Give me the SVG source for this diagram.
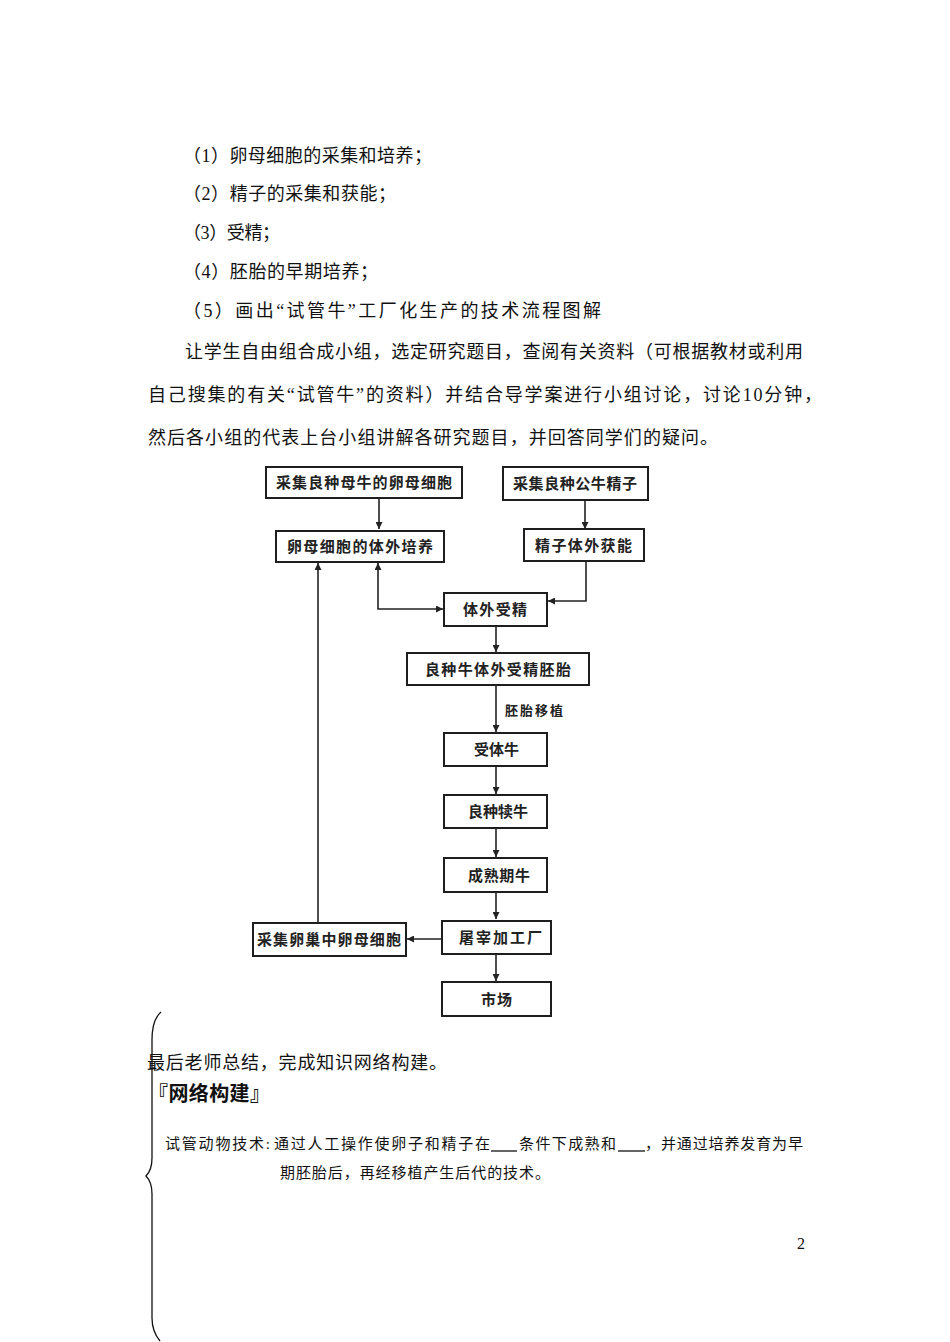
<svg xmlns="http://www.w3.org/2000/svg" width="950" height="1342" viewBox="0 0 950 1342">
<style>
.body{font-family:"Liberation Serif","Noto Sans CJK SC",serif;font-size:18px;fill:#111}
.small{font-family:"Liberation Serif","Noto Sans CJK SC",serif;font-size:15px;fill:#111}
.box rect{fill:#fff;stroke:#1e1e1e;stroke-width:2}
.box text{font-family:"Noto Sans CJK SC",sans-serif;font-size:15px;font-weight:bold;fill:#222}
.conn path{fill:none;stroke:#222;stroke-width:1.6}
.lbl{font-family:"Noto Sans CJK SC",sans-serif;font-size:13px;font-weight:bold;fill:#222}
</style>
<defs>
<marker id="ah" viewBox="0 0 10 10" refX="10" refY="5" markerWidth="7" markerHeight="7" orient="auto-start-reverse" markerUnits="userSpaceOnUse">
<path d="M0,0 L10,5 L0,10 Z" fill="#222"/>
</marker>
</defs>
<rect width="950" height="1342" fill="#fff"/>

<g id="text-top">
<text class="body" x="183" y="162" textLength="249" lengthAdjust="spacing">（1）卵母细胞的采集和培养；</text>
<text class="body" x="183" y="200" textLength="213" lengthAdjust="spacing">（2）精子的采集和获能；</text>
<text class="body" x="183" y="239" textLength="97" lengthAdjust="spacing">（3）受精；</text>
<text class="body" x="183" y="278" textLength="195" lengthAdjust="spacing">（4）胚胎的早期培养；</text>
<text class="body" x="183" y="317" textLength="418" lengthAdjust="spacing">（5）画出“试管牛”工厂化生产的技术流程图解</text>
<text class="body" x="185" y="358" textLength="618" lengthAdjust="spacing">让学生自由组合成小组，选定研究题目，查阅有关资料（可根据教材或利用</text>
<text class="body" x="148" y="401" textLength="674" lengthAdjust="spacing">自己搜集的有关“试管牛”的资料）并结合导学案进行小组讨论，讨论10分钟，</text>
<text class="body" x="148" y="444" textLength="570" lengthAdjust="spacing">然后各小组的代表上台小组讲解各研究题目，并回答同学们的疑问。</text>
</g>

<g class="conn" id="connectors">
<path d="M379,498 L379,529" marker-end="url(#ah)"/>
<path d="M585,500 L585,529" marker-end="url(#ah)"/>
<path d="M586,561 L586,601 L548,601" marker-end="url(#ah)"/>
<path d="M378,563 L378,609 L443,609" marker-start="url(#ah)" marker-end="url(#ah)"/>
<path d="M496,626 L496,652" marker-end="url(#ah)"/>
<path d="M496,685 L496,732" marker-end="url(#ah)"/>
<path d="M496,766 L496,794" marker-end="url(#ah)"/>
<path d="M496,828 L496,857" marker-end="url(#ah)"/>
<path d="M496,892 L496,919" marker-end="url(#ah)"/>
<path d="M496,954 L496,981" marker-end="url(#ah)"/>
<path d="M441,939 L407,939" marker-end="url(#ah)"/>
<path d="M318,922 L318,563" marker-end="url(#ah)"/>
<text class="lbl" x="505" y="715" textLength="58" lengthAdjust="spacing">胚胎移植</text>
</g>

<g class="box" id="node-a"><rect x="266" y="467" width="196" height="31"/><text x="276" y="488" textLength="176" lengthAdjust="spacing">采集良种母牛的卵母细胞</text></g>
<g class="box" id="node-b"><rect x="276" y="531" width="168" height="31"/><text x="287" y="552" textLength="146" lengthAdjust="spacing">卵母细胞的体外培养</text></g>
<g class="box" id="node-c"><rect x="503" y="467" width="145" height="33"/><text x="513" y="489" textLength="124" lengthAdjust="spacing">采集良种公牛精子</text></g>
<g class="box" id="node-d"><rect x="524" y="529" width="120" height="32"/><text x="535" y="551" textLength="97" lengthAdjust="spacing">精子体外获能</text></g>
<g class="box" id="node-e"><rect x="444" y="593" width="103" height="33"/><text x="463" y="615" textLength="64" lengthAdjust="spacing">体外受精</text></g>
<g class="box" id="node-f"><rect x="407" y="653" width="182" height="32"/><text x="425" y="675" textLength="146" lengthAdjust="spacing">良种牛体外受精胚胎</text></g>
<g class="box" id="node-g"><rect x="444" y="733" width="103" height="33"/><text x="474" y="755" textLength="45" lengthAdjust="spacing">受体牛</text></g>
<g class="box" id="node-h"><rect x="444" y="795" width="103" height="33"/><text x="468" y="817" textLength="60" lengthAdjust="spacing">良种犊牛</text></g>
<g class="box" id="node-i"><rect x="444" y="858" width="103" height="34"/><text x="468" y="881" textLength="62" lengthAdjust="spacing">成熟期牛</text></g>
<g class="box" id="node-j"><rect x="442" y="921" width="109" height="33"/><text x="459" y="943" textLength="83" lengthAdjust="spacing">屠宰加工厂</text></g>
<g class="box" id="node-k"><rect x="253" y="923" width="153" height="33"/><text x="257" y="945" textLength="144" lengthAdjust="spacing">采集卵巢中卵母细胞</text></g>
<g class="box" id="node-l"><rect x="442" y="982" width="109" height="34"/><text x="481" y="1005" textLength="31" lengthAdjust="spacing">市场</text></g>

<g id="bottom">
<path d="M161,1012 C154,1018 152,1028 152,1040 L152,1158 C152,1166 150,1172 146,1176 C150,1180 152,1186 152,1194 L152,1318 C152,1328 155,1335 160,1341" fill="none" stroke="#111" stroke-width="1.3"/>
<text class="body" x="147" y="1069" textLength="300" lengthAdjust="spacing">最后老师总结，完成知识网络构建。</text>
<text x="148" y="1101" font-family="Noto Sans CJK SC, sans-serif" font-size="20" font-weight="bold" fill="#111" textLength="122" lengthAdjust="spacing">『网络构建』</text>
<text class="small" x="165" y="1149" textLength="105" lengthAdjust="spacing">试管动物技术:</text>
<text class="small" x="274" y="1149" textLength="216" lengthAdjust="spacing">通过人工操作使卵子和精子在</text>
<line x1="491" y1="1151" x2="517" y2="1151" stroke="#111" stroke-width="1.3"/>
<text class="small" x="519" y="1149" textLength="97" lengthAdjust="spacing">条件下成熟和</text>
<line x1="618" y1="1151" x2="645" y2="1151" stroke="#111" stroke-width="1.3"/>
<text class="small" x="645" y="1149" textLength="158" lengthAdjust="spacing">，并通过培养发育为早</text>
<text class="small" x="280" y="1178" textLength="270" lengthAdjust="spacing">期胚胎后，再经移植产生后代的技术。</text>
<text x="797" y="1249" font-family="Liberation Serif, serif" font-size="16" fill="#111">2</text>
</g>
</svg>
